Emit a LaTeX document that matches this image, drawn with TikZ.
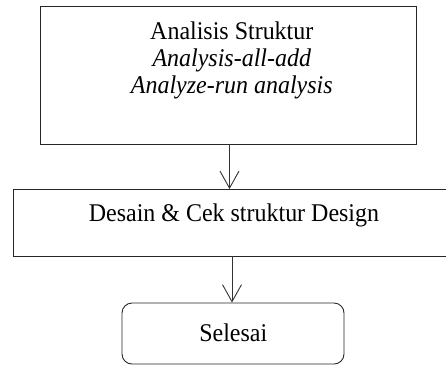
\documentclass[tikz,border=0pt]{standalone}
\usepackage{fontspec}
\setmainfont{Liberation Serif}[FakeStretch=0.94]
\usetikzlibrary{arrows.meta}
\begin{document}
\begin{tikzpicture}[x=1pt,y=-1pt,
  boxstyle/.style={draw=black!85, line width=0.9pt, rectangle, inner sep=0pt},
  txt/.style={inner sep=0pt, anchor=base, align=center, font=\fontsize{25.5}{26.7}\selectfont},
  arr/.style={draw=black!80, line width=0.9pt, -{Straight Barb[length=17pt,width=19pt,line width=0.9pt]}}]
\clip (0,0) rectangle (446,365);
\node[boxstyle, minimum width=376pt, minimum height=138pt] (b1) at (228,75) {};
\node[boxstyle, minimum width=436pt, minimum height=66.5pt] (b2) at (231,222.75) {};
\node[boxstyle, rounded corners=10pt, minimum width=222pt, minimum height=61pt] (b3) at (233,333.5) {};
\node[txt] (t1) at (231.8,93.3) {Analisis Struktur\\ \textit{Analysis-all-add}\\ \textit{Analyze-run analysis}};
\node[txt] (t2) at (234,221.7) {Desain \& Cek struktur Design};
\node[txt] (t3) at (233.3,341.7) {Selesai};
\draw[arr] ([xshift=1.5pt]b1.south) -- ([xshift=1.5pt]b1.south |- b2.north);
\draw[arr] ([xshift=1pt]b2.south) -- ([xshift=1pt]b2.south |- b3.north);
\end{tikzpicture}
\end{document}
